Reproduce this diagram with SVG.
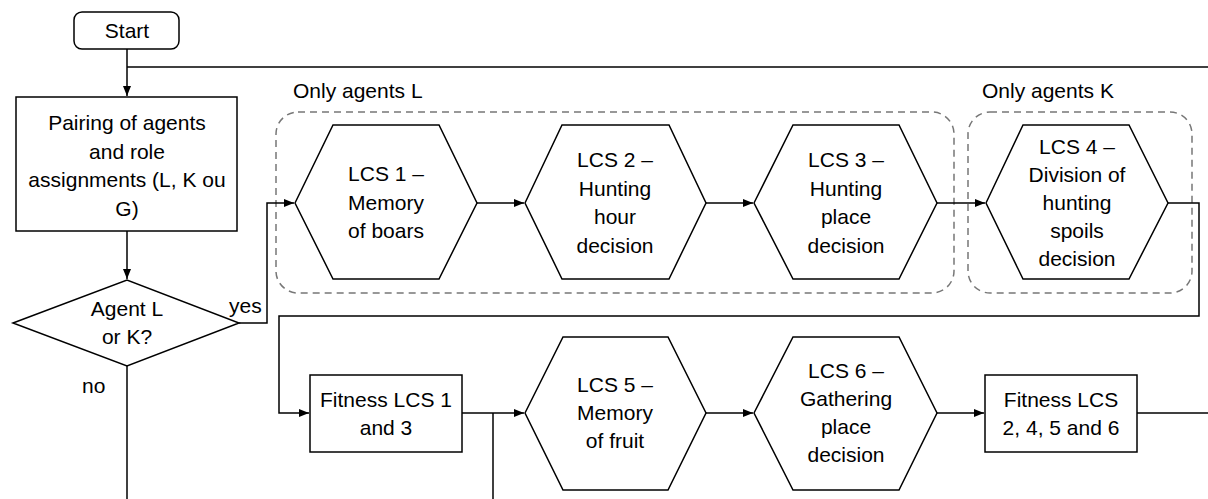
<svg xmlns="http://www.w3.org/2000/svg" width="1208" height="499" viewBox="0 0 1208 499">
<style>
.s{fill:#fff;stroke:#000;stroke-width:1.5}
.t{font-family:"Liberation Sans",Arial,sans-serif;font-size:21px;fill:#000;text-anchor:middle}
.l{font-family:"Liberation Sans",Arial,sans-serif;font-size:21px;fill:#000}
.c{fill:none;stroke:#000;stroke-width:1.5}
.g{fill:none;stroke:#777;stroke-width:1.5;stroke-dasharray:7 5}
</style>
<defs>
<marker id="a" markerWidth="10" markerHeight="8" refX="10" refY="4" orient="auto" markerUnits="userSpaceOnUse">
<path d="M0,0 L10,4 L0,8 Z" fill="#000"/>
</marker>
</defs>
<g id="groupL">
<rect class="g" x="276" y="112" width="678" height="181" rx="22"/>
<text class="l" x="293" y="98">Only agents L</text>
</g>
<g id="groupK">
<rect class="g" x="968" y="112" width="224" height="181" rx="22"/>
<text class="l" x="982" y="98">Only agents K</text>
</g>
<g id="connectors">
<path class="c" d="M127,49 V96" marker-end="url(#a)"/>
<path class="c" d="M127,67 H1208"/>
<path class="c" d="M127,231 V279" marker-end="url(#a)"/>
<path class="c" d="M239,323 H267 V203 H294" marker-end="url(#a)"/>
<path class="c" d="M127,366 V499"/>
<path class="c" d="M477,203 H524" marker-end="url(#a)"/>
<path class="c" d="M706,203 H753" marker-end="url(#a)"/>
<path class="c" d="M937,203 H985" marker-end="url(#a)"/>
<path class="c" d="M1168,203 H1199 V316 H279 V413 H309" marker-end="url(#a)"/>
<path class="c" d="M462,413 H524" marker-end="url(#a)"/>
<path class="c" d="M493,413 V499"/>
<path class="c" d="M706,413 H753" marker-end="url(#a)"/>
<path class="c" d="M937,413 H984" marker-end="url(#a)"/>
<path class="c" d="M1137,413 H1208"/>
<text class="l" x="229" y="313">yes</text>
<text class="l" x="82" y="393">no</text>
</g>
<g id="start">
<rect class="s" x="74" y="12" width="105" height="37" rx="8"/>
<text class="t" x="127" y="38">Start</text>
</g>
<g id="pairing">
<rect class="s" x="16" y="97" width="221" height="134"/>
<text class="t" x="127" y="130">Pairing of agents</text>
<text class="t" x="127" y="159">and role</text>
<text class="t" x="127" y="187">assignments (L, K ou</text>
<text class="t" x="127" y="216">G)</text>
</g>
<g id="decision">
<polygon class="s" points="13,323 127,280 239,323 127,366"/>
<text class="t" x="127" y="316">Agent L</text>
<text class="t" x="127" y="344">or K?</text>
</g>
<g id="lcs1">
<polygon class="s" points="295,203 333,125 439,125 477,203 439,279 333,279"/>
<text class="t" x="386" y="181">LCS 1 –</text>
<text class="t" x="386" y="210">Memory</text>
<text class="t" x="386" y="238">of boars</text>
</g>
<g id="lcs2">
<polygon class="s" points="525,203 562,125 669,125 706,203 669,279 562,279"/>
<text class="t" x="615" y="167">LCS 2 –</text>
<text class="t" x="615" y="196">Hunting</text>
<text class="t" x="615" y="224">hour</text>
<text class="t" x="615" y="253">decision</text>
</g>
<g id="lcs3">
<polygon class="s" points="754,203 793,125 899,125 937,203 899,279 793,279"/>
<text class="t" x="846" y="167">LCS 3 –</text>
<text class="t" x="846" y="196">Hunting</text>
<text class="t" x="846" y="224">place</text>
<text class="t" x="846" y="253">decision</text>
</g>
<g id="lcs4">
<polygon class="s" points="986,203 1023,125 1129,125 1168,203 1129,279 1023,279"/>
<text class="t" x="1077" y="154">LCS 4 –</text>
<text class="t" x="1077" y="182">Division of</text>
<text class="t" x="1077" y="210">hunting</text>
<text class="t" x="1077" y="238">spoils</text>
<text class="t" x="1077" y="266">decision</text>
</g>
<g id="fitness1">
<rect class="s" x="310" y="375" width="152" height="77"/>
<text class="t" x="386" y="407">Fitness LCS 1</text>
<text class="t" x="386" y="435">and 3</text>
</g>
<g id="lcs5">
<polygon class="s" points="525,413 563,337 668,337 706,413 668,490 563,490"/>
<text class="t" x="615" y="392">LCS 5 –</text>
<text class="t" x="615" y="420">Memory</text>
<text class="t" x="615" y="448">of fruit</text>
</g>
<g id="lcs6">
<polygon class="s" points="754,413 793,337 899,337 937,413 899,490 793,490"/>
<text class="t" x="846" y="378">LCS 6 –</text>
<text class="t" x="846" y="406">Gathering</text>
<text class="t" x="846" y="434">place</text>
<text class="t" x="846" y="462">decision</text>
</g>
<g id="fitness2">
<rect class="s" x="985" y="375" width="152" height="77"/>
<text class="t" x="1061" y="407">Fitness LCS</text>
<text class="t" x="1061" y="435">2, 4, 5 and 6</text>
</g>
</svg>
